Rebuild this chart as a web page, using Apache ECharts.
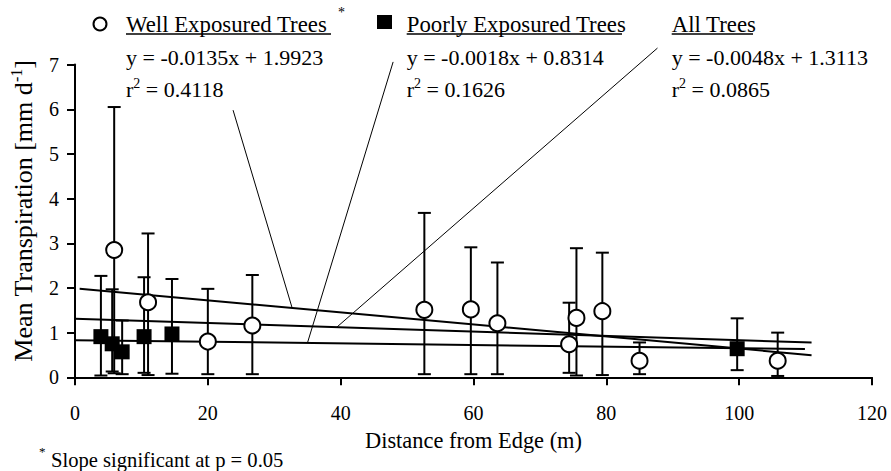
<!DOCTYPE html>
<html><head><meta charset="utf-8">
<script src="https://cdn.jsdelivr.net/npm/echarts@6/dist/echarts.min.js"></script>
<style>html,body{margin:0;padding:0;background:#fff}#c{width:891px;height:471px}</style>
</head><body><div id="c"></div><script>
// ---- data ----
const wellX  = [5.9, 11.0, 20.0, 26.7, 52.6, 59.6, 63.6, 74.4, 75.5, 79.4, 85.0, 105.8];
const wellY  = [2.85, 1.68, 0.80, 1.16, 1.51, 1.52, 1.21, 0.74, 1.33, 1.48, 0.37, 0.37];
const wellHi = [6.05, 3.22, 1.98, 2.29, 3.68, 2.91, 2.57, 1.67, 2.89, 2.79, 0.78, 1.00];
const wellLo = [0.09, 0.05, 0.07, 0.07, 0.07, 0.07, 0.07, 0.10, 0.04, 0.05, 0.07, 0.03];
const poorX  = [3.9, 5.6, 7.1, 10.4, 14.6, 99.7];
const poorY  = [0.91, 0.75, 0.57, 0.91, 0.97, 0.64];
const poorHi = [2.27, 1.97, 1.27, 2.24, 2.20, 1.32];
const poorLo = [0.04, 0.13, 0.07, 0.10, 0.08, 0.16];
const xTicks = [0, 20, 40, 60, 80, 100, 120];
const yTicks = [0, 1, 2, 3, 4, 5, 6, 7];
const fitNames = ['Well Exposured Trees', 'Poorly Exposured Trees', 'All Trees'];
const fitSlope = [-0.0135, -0.0018, -0.0048];
const fitIntercept = [1.9923, 0.8314, 1.3113];
const fitR2 = ['0.4118', '0.1626', '0.0865'];
const fitFrom = [0.7, 0, 0];
const fitTo = [110.9, 109.9, 110.9];
// callout annotation lines (label end, line end) in data units
const calloutStart = [[23.8, 5.98], [47.9, 7.06], [87.7, 7.37]];
const calloutEnd = [[32.7, 1.55], [35.0, 0.77], [39.4, 1.12]];

const FONT = "'Liberation Serif', 'Times New Roman', serif";
const chart = echarts.init(document.getElementById('c'), null, {renderer: 'svg', width: 891, height: 471});

function errorBars(xs, hi, lo, name) {
  return {
    type: 'custom', name: name, z: 2, silent: true,
    data: xs.map((x, i) => [x, lo[i], hi[i]]),
    encode: {x: 0, y: [1, 2]},
    renderItem: function (params, api) {
      const x = api.value(0);
      const a = api.coord([x, api.value(1)]);
      const b = api.coord([x, api.value(2)]);
      const hw = 6.5, st = {stroke: '#000', lineWidth: 2};
      return {type: 'group', children: [
        {type: 'line', shape: {x1: a[0], y1: a[1], x2: b[0], y2: b[1]}, style: st},
        {type: 'line', shape: {x1: b[0] - hw, y1: b[1], x2: b[0] + hw, y2: b[1]}, style: st},
        {type: 'line', shape: {x1: a[0] - hw, y1: a[1], x2: a[0] + hw, y2: a[1]}, style: st}
      ]};
    }
  };
}

const fitSeries = fitNames.map((n, i) => ({
  type: 'line', name: n + ' fit', z: 1, silent: true, showSymbol: false,
  data: [[fitFrom[i], fitSlope[i] * fitFrom[i] + fitIntercept[i]], [fitTo[i], fitSlope[i] * fitTo[i] + fitIntercept[i]]],
  lineStyle: {color: '#000', width: 2}
}));
const calloutSeries = fitNames.map((n, i) => ({
  type: 'line', name: n + ' label', z: 1, silent: true, showSymbol: false, clip: false,
  data: [calloutStart[i], calloutEnd[i]],
  lineStyle: {color: '#000', width: 1}
}));

const legX = [126, 406.7, 671.7];
const ulEnd = [331, 622, 753];
const graphics = [];
fitNames.forEach((n, i) => {
  graphics.push({type: 'text', x: legX[i], y: 24, style: {text: n, font: '22.8px ' + FONT, fill: '#000', verticalAlign: 'middle'}});
  graphics.push({type: 'line', shape: {x1: legX[i], y1: 34, x2: ulEnd[i], y2: 34}, style: {stroke: '#000', lineWidth: 1.3}});
  const sign = fitIntercept[i] >= 0 ? ' + ' : ' - ';
  graphics.push({type: 'text', x: legX[i], y: 57.5, style: {text: 'y = ' + fitSlope[i] + 'x' + sign + Math.abs(fitIntercept[i]), font: '22px ' + FONT, fill: '#000', verticalAlign: 'middle'}});
  graphics.push({type: 'text', x: legX[i], y: 89, style: {
    text: '{t|r}{s|2}{t| = ' + fitR2[i] + '}', verticalAlign: 'middle', fill: '#000',
    rich: {t: {fontFamily: FONT, fontSize: 22, lineHeight: 26, fill: '#000'},
           s: {fontFamily: FONT, fontSize: 14, lineHeight: 12, verticalAlign: 'top', fill: '#000'}}
  }});
});
graphics.push({type: 'circle', shape: {cx: 100, cy: 24, r: 6.5}, style: {fill: '#fff', stroke: '#000', lineWidth: 2}});
graphics.push({type: 'rect', shape: {x: 377, y: 15, width: 15, height: 14}, style: {fill: '#000'}});
graphics.push({type: 'text', x: 338, y: 12, style: {text: '*', font: '14px ' + FONT, fill: '#000', verticalAlign: 'middle'}});
graphics.push({type: 'text', x: 39, y: 451, style: {text: '*', font: '13px ' + FONT, fill: '#000', verticalAlign: 'middle'}});
graphics.push({type: 'text', x: 51, y: 460, style: {text: 'Slope significant at p = 0.05', font: '20.6px ' + FONT, fill: '#000', verticalAlign: 'middle'}});

const axisCommon = {
  axisLine: {show: true, lineStyle: {color: '#000', width: 2}},
  axisTick: {show: true, inside: false, length: 8, lineStyle: {color: '#000', width: 2}},
  splitLine: {show: false},
  nameTextStyle: {fontFamily: FONT, fontSize: 22.4, color: '#000'}
};

chart.setOption({
  animation: false,
  backgroundColor: '#fff',
  grid: {left: 72.5, right: 19, top: 64.6, bottom: 93.7, containLabel: false},
  xAxis: Object.assign({}, axisCommon, {
    type: 'value', min: xTicks[0], max: xTicks[xTicks.length - 1], interval: xTicks[1] - xTicks[0],
    name: 'Distance from Edge (m)', nameLocation: 'middle', nameGap: 52,
    axisLabel: {fontFamily: FONT, fontSize: 20, color: '#000', margin: 26}
  }),
  yAxis: Object.assign({}, axisCommon, {
    type: 'value', min: yTicks[0], max: yTicks[yTicks.length - 1], interval: yTicks[1] - yTicks[0],
    name: '{t|Mean Transpiration [mm d}{s|-1}{t|]}', nameLocation: 'middle', nameGap: 37, nameRotate: 90,
    nameTextStyle: {padding: [0, 0, 0, 20], rich: {
      t: {fontFamily: FONT, fontSize: 26, lineHeight: 30, color: '#000'},
      s: {fontFamily: FONT, fontSize: 16, lineHeight: 14, verticalAlign: 'top', color: '#000'}
    }},
    axisLabel: {fontFamily: FONT, fontSize: 20, color: '#000', margin: 16}
  }),
  graphic: graphics,
  series: [
    ...fitSeries,
    ...calloutSeries,
    errorBars(wellX, wellHi, wellLo, 'Well Exposured Trees error'),
    errorBars(poorX, poorHi, poorLo, 'Poorly Exposured Trees error'),
    {type: 'scatter', name: 'Well Exposured Trees', z: 3, symbol: 'circle', symbolSize: 16,
     data: wellX.map((x, i) => [x, wellY[i]]),
     itemStyle: {color: '#fff', borderColor: '#000', borderWidth: 2, opacity: 1}},
    {type: 'scatter', name: 'Poorly Exposured Trees', z: 3, symbol: 'rect', symbolSize: 15,
     data: poorX.map((x, i) => [x, poorY[i]]),
     itemStyle: {color: '#000', opacity: 1}}
  ]
});
</script></body></html>
